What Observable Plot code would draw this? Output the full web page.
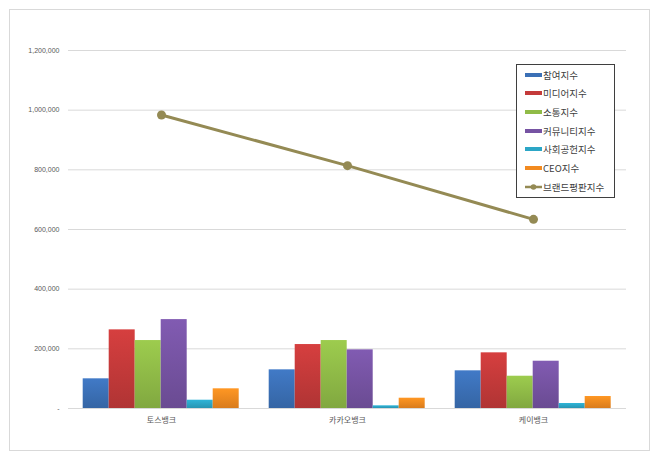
<!DOCTYPE html>
<html>
<head>
<meta charset="utf-8">
<script src="https://cdn.jsdelivr.net/npm/d3@7"></script>
<script src="https://cdn.jsdelivr.net/npm/@observablehq/plot@0.6"></script>
<style>
  body { margin: 0; background: #fff; }
  #wrap { position: relative; width: 660px; height: 461px; overflow: hidden; }
  #frame { position: absolute; left: 9px; top: 9px; width: 641px; height: 442px; border: 1px solid #d9d9d9; box-sizing: border-box; }
  .layer { position: absolute; left: 0; top: 0; }
  #legend { position: absolute; left: 516px; top: 64px; width: 99px; height: 134px; border: 1px solid #3f3f3f; box-sizing: border-box; background: #fff; padding-top: 0.5px;
    font-family: "Noto Sans CJK KR", sans-serif; font-size: 9.5px; color: #404040; }
  .item { display: flex; align-items: center; height: 18.67px; padding-left: 8px; white-space: nowrap; }
  .sw { display: inline-block; width: 17px; height: 4px; margin-right: 1px; }
</style>
</head>
<body>
<div id="wrap">
  <div id="frame"></div>
</div>
<script>
const categories = ["토스뱅크", "카카오뱅크", "케이뱅크"];
const series = ["참여지수", "미디어지수", "소통지수", "커뮤니티지수", "사회공헌지수", "CEO지수"];
const participation = [99500, 129600, 126300];
const media = [263600, 214400, 186600];
const communication = [227800, 227800, 108200];
const community = [298000, 196600, 158500];
const socialContribution = [27800, 9000, 16750];
const ceo = [66000, 34500, 40200];
const brandName = "브랜드평판지수";
const brandReputation = [983900, 814000, 634000];
const yTicks = [0, 200000, 400000, 600000, 800000, 1000000, 1200000];

const colors = ["#3b70b6", "#c43a3a", "#90bb47", "#7653a3", "#2ca6c6", "#f28a20"];
const lineColor = "#948a54";

const seriesValues = [participation, media, communication, community, socialContribution, ceo];
const rows = [];
categories.forEach((c, i) => {
  series.forEach((s, j) => rows.push({category: c, series: s, value: seriesValues[j][i]}));
});
const lineRows = categories.map((c, i) => ({category: c, value: brandReputation[i]}));

const W = 660, H = 461;
const margins = {marginLeft: 67.3, marginRight: 32.7, marginTop: 50, marginBottom: 53};
const style = {fontFamily: "'Liberation Sans', 'Noto Sans CJK KR', sans-serif", fontSize: "7px", color: "#595959", background: "transparent"};
const fmt = d3.format(",");

const bars = Plot.plot({
  width: W, height: H, ...margins, style,
  fx: {domain: categories, padding: 0, label: null},
  x: {domain: series, paddingInner: 0, paddingOuter: 0.5, axis: null},
  y: {domain: [0, 1200000], label: null},
  marks: [
    Plot.gridY(yTicks, {stroke: "#d9d9d9", strokeOpacity: 1}),
    Plot.axisY(yTicks, {tickSize: 0, tickPadding: 9, label: null, tickFormat: d => d === 0 ? "-" : fmt(d)}),
    Plot.axisFx({anchor: "bottom", tickSize: 0, tickPadding: 9, label: null, fontSize: 8, fontFamily: "'Noto Sans CJK KR', sans-serif"}),
    Plot.barY(rows, {fx: "category", x: "series", y: "value",
      fill: {value: d => `url(#grad${series.indexOf(d.series)})`, scale: null}}),
    Plot.ruleY([0], {stroke: "#d9d9d9"})
  ]
});
bars.classList.add("layer");

// gradient definitions for the Excel-like bar shading
const defs = d3.select(bars).insert("defs", ":first-child");
colors.forEach((c, j) => {
  const g = defs.append("linearGradient").attr("id", `grad${j}`).attr("x1", 0).attr("y1", 0).attr("x2", 0).attr("y2", 1);
  g.append("stop").attr("offset", "0%").attr("stop-color", d3.color(c).brighter(0.25).formatHex());
  g.append("stop").attr("offset", "100%").attr("stop-color", d3.color(c).darker(0.3).formatHex());
});

const line = Plot.plot({
  width: W, height: H, ...margins, style,
  x: {type: "point", domain: categories, padding: 0.5, axis: null},
  y: {domain: [0, 1200000], axis: null},
  marks: [
    Plot.line(lineRows, {x: "category", y: "value", stroke: lineColor, strokeWidth: 3}),
    Plot.dot(lineRows, {x: "category", y: "value", fill: lineColor, r: 4.5, stroke: null})
  ]
});
line.classList.add("layer");
line.style.pointerEvents = "none";

const wrap = document.getElementById("wrap");
wrap.appendChild(bars);
wrap.appendChild(line);

const legend = document.createElement("div");
legend.id = "legend";
series.forEach((s, j) => {
  const it = document.createElement("div");
  it.className = "item";
  const sw = document.createElement("span");
  sw.className = "sw";
  sw.style.background = colors[j];
  it.appendChild(sw);
  it.appendChild(document.createTextNode(s));
  legend.appendChild(it);
});
{
  const it = document.createElement("div");
  it.className = "item";
  const svg = d3.create("svg").attr("width", 17).attr("height", 8).style("margin-right", "1px");
  svg.append("line").attr("x1", 0).attr("x2", 17).attr("y1", 4).attr("y2", 4).attr("stroke", lineColor).attr("stroke-width", 2.5);
  svg.append("circle").attr("cx", 8.5).attr("cy", 4).attr("r", 2.8).attr("fill", lineColor);
  it.appendChild(svg.node());
  it.appendChild(document.createTextNode(brandName));
  legend.appendChild(it);
}
wrap.appendChild(legend);
</script>
</body>
</html>
